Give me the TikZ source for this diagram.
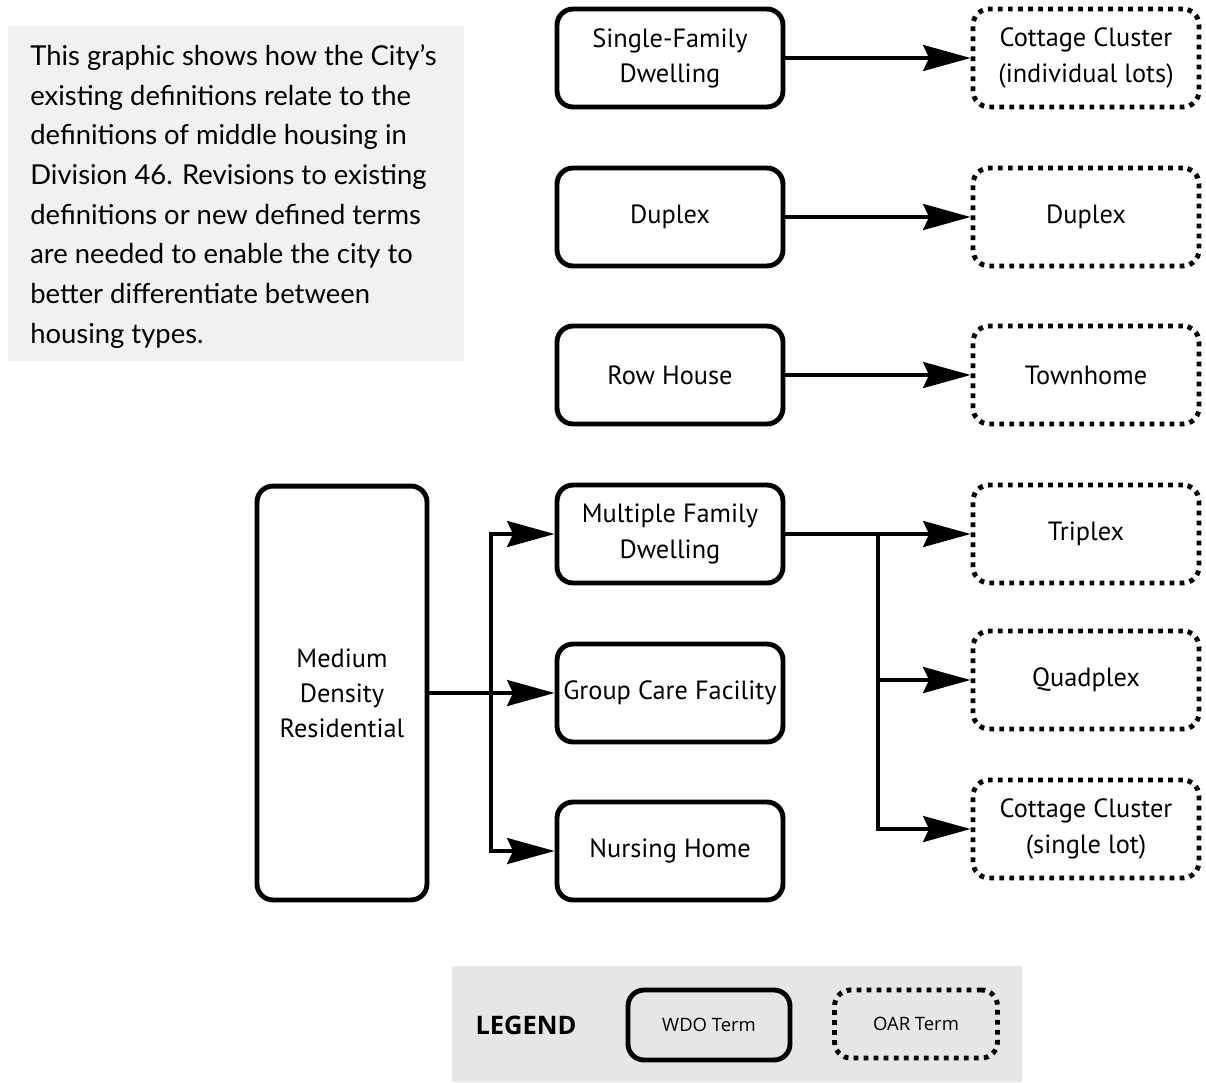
\documentclass[tikz,border=0pt]{standalone}
\usepackage{fontspec}
\setmainfont{PT Sans}
\newfontfamily\notefont{Lato}
\newfontfamily\legendfont{Open Sans}
\usetikzlibrary{arrows.meta}
\definecolor{notegray}{HTML}{F1F1F1}
\definecolor{legendgray}{HTML}{E6E6E6}
\tikzstyle{wdo} = [draw, line width=2.8pt, rounded corners=0.32cm, minimum width=4.52cm, minimum height=1.96cm, align=center, inner sep=0pt, font=\fontsize{15}{20}\selectfont]
\tikzstyle{oar} = [wdo, line cap=butt, dash pattern=on 2.7pt off 3pt]
\tikzstyle{arr} = [line width=1.9pt, -{Stealth[length=0.95cm,width=0.52cm,inset=0.12cm]}]

\begin{document}
\begin{tikzpicture}[x=0.02cm,y=-0.02cm]
    \useasboundingbox (0,0) rectangle (1206,1082);
    % note panel
    \fill[notegray] (8,26) rectangle (464,361);
    \node[anchor=north west, align=left, inner sep=0pt, font=\notefont\fontsize{15.6}{22.6}\selectfont] (note) at (30,44)
        {This graphic shows how the City’s\\existing definitions relate to the\\definitions of middle housing in\\Division 46. Revisions to existing\\definitions or new defined terms\\are needed to enable the city to\\better differentiate between\\housing types.};
    % WDO terms
    \node[wdo] (sfd) at (670,58) {Single-Family\\Dwelling};
    \node[wdo] (dup) at (670,217) {Duplex};
    \node[wdo] (row) at (670,375) {Row House};
    \node[wdo] (mfd) at (670,534) {Multiple Family\\Dwelling};
    \node[wdo] (gcf) at (670,693) {Group Care Facility};
    \node[wdo] (nh) at (670,851) {Nursing Home};
    \node[wdo, minimum width=3.4cm, minimum height=8.28cm] (mdr) at (342,693) {Medium\\Density\\Residential};
    % OAR terms
    \node[oar] (cci) at (1086,58) {Cottage Cluster\\(individual lots)};
    \node[oar] (dupo) at (1086,217) {Duplex};
    \node[oar] (town) at (1086,375) {Townhome};
    \node[oar] (tri) at (1086,534) {Triplex};
    \node[oar] (quad) at (1086,680) {Quadplex};
    \node[oar] (ccs) at (1086,829) {Cottage Cluster\\(single lot)};
    % connectors
    \draw[arr] (sfd) -- (cci);
    \draw[arr] (dup) -- (dupo);
    \draw[arr] (row) -- (town);
    \coordinate (lb) at (491,693);
    \draw[arr] (mdr.east) -- (gcf.west);
    \draw[arr] (lb) |- (mfd.west);
    \draw[arr] (lb) |- (nh.west);
    \coordinate (rb) at (878,534);
    \draw[arr] (mfd.east) -- (tri.west);
    \draw[arr] (rb) |- (quad.west);
    \draw[arr] (rb) |- (ccs.west);
    % legend
    \fill[legendgray] (452,966) rectangle (1022,1082);
    \node[font=\legendfont\bfseries\fontsize{14.5}{17}\selectfont] (leg) at (526,1025) {LEGEND};
    \node[wdo, minimum width=3.24cm, minimum height=1.4cm, font=\legendfont\fontsize{10.5}{12}\selectfont] (lwdo) at (709,1025) {WDO Term};
    \node[oar, minimum width=3.26cm, minimum height=1.36cm, font=\legendfont\fontsize{10.5}{12}\selectfont] (loar) at (916,1024) {OAR Term};
\end{tikzpicture}
\end{document}
